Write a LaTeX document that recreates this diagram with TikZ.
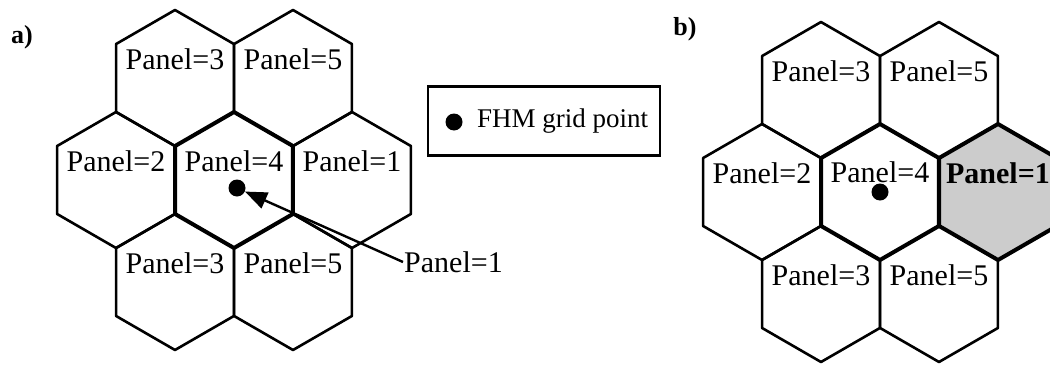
\documentclass[tikz,border=0pt]{standalone}
\usepackage{fontspec}
\setmainfont{Liberation Serif}
\usetikzlibrary{arrows.meta}

\begin{document}
\begin{tikzpicture}[x=1pt,y=-1pt,
  hex/.style={line width=2.6pt,line join=round},
  hexbold/.style={line width=4pt,line join=round},
  lbl/.style={font=\fontsize{30}{32}\selectfont,inner sep=1pt},
  gridpt/.style={circle,fill=black,inner sep=0pt,minimum size=17pt}]
  \useasboundingbox (0,0) rectangle (1050,367);
  \clip (0,0) rectangle (1050,367);
  % a) panels round the FHM grid point
  \node[font=\fontsize{26}{28}\selectfont\bfseries] (tagA) at (22,37) {a)};
  \foreach \n/\cx/\cy/\t in {a3t/175/78/3,a5t/293/78/5,a2/116/180/2,a1/352/180/1,a3b/175/282/3,a5b/293/282/5}{
    \draw[hex] (\cx,\cy) +(30:68) -- +(90:68) -- +(150:68) -- +(210:68) -- +(270:68) -- +(330:68) -- cycle;
    \node[lbl] (\n) at (\cx,\cy-19) {Panel=\t};
  }
  \draw[hexbold] (234,180) +(30:68) -- +(90:68) -- +(150:68) -- +(210:68) -- +(270:68) -- +(330:68) -- cycle;
  \node[lbl] (a4) at (234,161) {Panel=4};
  \node[gridpt] (ptA) at (237,188) {};
  \node[lbl,anchor=west] (ptrA) at (403,262) {Panel=1};
  \draw[line width=2.4pt,-{Triangle[length=22pt,width=17pt]}] (ptrA.west) -- (ptA);
  % legend
  \node[draw,line width=2.2pt,minimum width=232pt,minimum height=69pt] (legend) at (544,121) {};
  \node[gridpt] (legdot) at (454,122) {};
  \node[font=\fontsize{27}{29}\selectfont,anchor=west,inner sep=1pt] (legtxt) at (476,121) {FHM grid point};
  % b) the panel that is taken
  \node[font=\fontsize{26}{28}\selectfont\bfseries] (tagB) at (685,29) {b)};
  \foreach \n/\cx/\cy/\t in {b3t/821/90/3,b5t/939/90/5,b2/762/192/2,b3b/821/294/3,b5b/939/294/5}{
    \draw[hex] (\cx,\cy) +(30:68) -- +(90:68) -- +(150:68) -- +(210:68) -- +(270:68) -- +(330:68) -- cycle;
    \node[lbl] (\n) at (\cx,\cy-19) {Panel=\t};
  }
  \draw[hexbold,fill=black!20] (998,192) +(30:68) -- +(90:68) -- +(150:68) -- +(210:68) -- +(270:68) -- +(330:68) -- cycle;
  \node[lbl,font=\fontsize{30}{32}\selectfont\bfseries] (b1) at (998,173) {Panel=1};
  \draw[hexbold] (880,192) +(30:68) -- +(90:68) -- +(150:68) -- +(210:68) -- +(270:68) -- +(330:68) -- cycle;
  \node[lbl] (b4) at (880,172) {Panel=4};
  \node[gridpt] (ptB) at (880,192) {};
\end{tikzpicture}
\end{document}
